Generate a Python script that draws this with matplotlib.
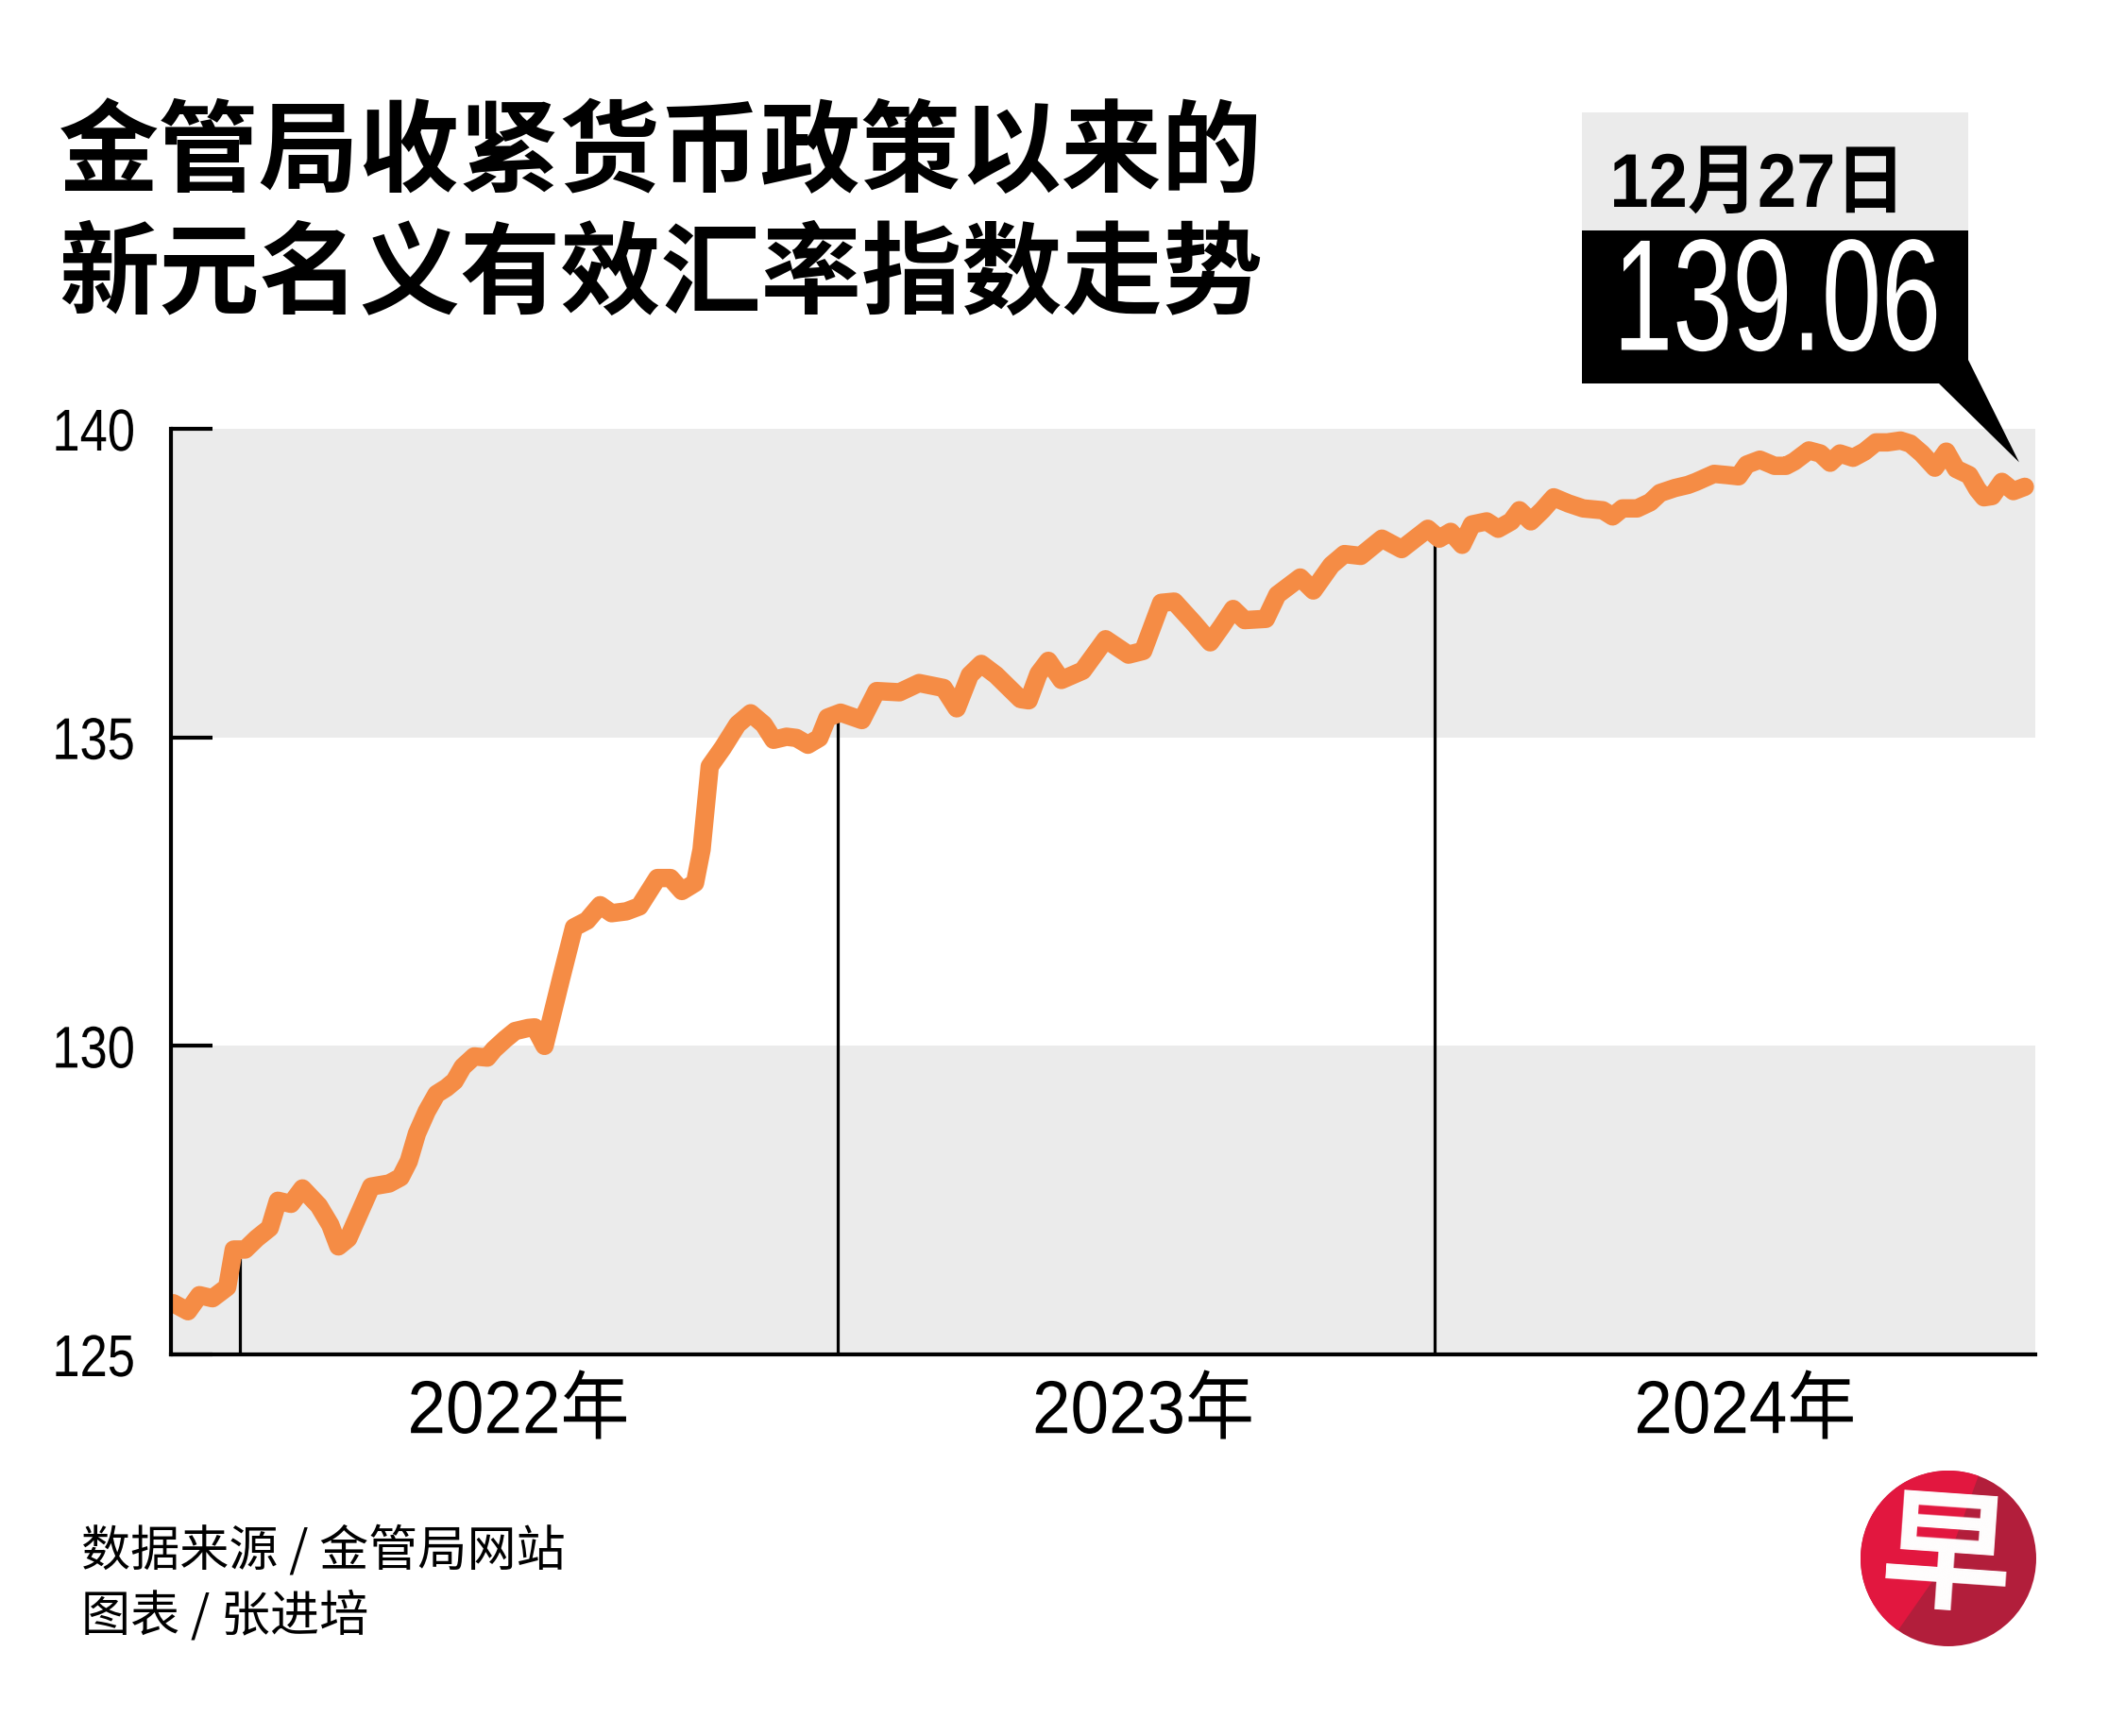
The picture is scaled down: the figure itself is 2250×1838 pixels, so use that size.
import numpy as np
import pandas as pd
import matplotlib
matplotlib.use('Agg')
import matplotlib.pyplot as plt
import matplotlib.dates as mdates
from matplotlib.patches import Polygon, Rectangle, Circle, Wedge
from matplotlib.patheffects import AbstractPathEffect
from matplotlib.transforms import IdentityTransform, Affine2D

# fonts
NUM = 'Liberation Sans'
CJK = 'Noto Sans CJK SC'

# data: days since 2022-01-01 and index value
base_date = '2022-01-01'
day_offsets = [-41, -32, -25, -17, -8, -4, 3, 10, 18, 23,
               31, 38, 48, 55, 60, 66, 74, 80, 91, 98,
               103, 108, 114, 120, 126, 131, 136, 143, 151, 155,
               162, 168, 176, 180, 186, 196, 204, 212, 220, 227,
               236, 244, 255, 263, 270, 278, 282, 287, 295, 304,
               312, 320, 326, 334, 340, 347, 354, 359, 367, 380,
               389, 403, 415, 430, 438, 446, 453, 462, 477, 482,
               488, 494, 502, 515, 529, 543, 552, 563, 571, 583,
               593, 600, 607, 614, 627, 634, 648, 656, 667, 675,
               685, 698, 710, 726, 733, 740, 747, 753, 762, 769,
               777, 782, 789, 796, 803, 812, 821, 833, 839, 845,
               854, 862, 868, 877, 885, 890, 901, 909, 916, 921,
               929, 938, 945, 950, 959, 966, 972, 978, 986, 993,
               1000, 1007, 1015, 1021, 1028, 1036, 1043, 1049, 1057, 1062,
               1066, 1071, 1077, 1084, 1091]
neer_index = [125.83, 125.70, 125.96, 125.91, 126.09, 126.70, 126.70, 126.88, 127.05, 127.49,
              127.44, 127.69, 127.41, 127.10, 126.75, 126.88, 127.36, 127.72, 127.77, 127.87,
              128.13, 128.58, 128.94, 129.22, 129.32, 129.43, 129.66, 129.83, 129.81, 129.94,
              130.11, 130.24, 130.29, 130.30, 130.00, 131.08, 131.92, 132.03, 132.28, 132.15,
              132.18, 132.26, 132.72, 132.72, 132.51, 132.64, 133.18, 134.53, 134.83, 135.21,
              135.39, 135.21, 134.96, 135.01, 134.99, 134.88, 134.99, 135.32, 135.40, 135.28,
              135.75, 135.73, 135.88, 135.80, 135.47, 136.01, 136.19, 136.01, 135.62, 135.60,
              136.03, 136.24, 135.93, 136.08, 136.59, 136.34, 136.40, 137.18, 137.20, 136.85,
              136.54, 136.80, 137.08, 136.90, 136.92, 137.31, 137.59, 137.38, 137.79, 137.97,
              137.94, 138.22, 138.05, 138.38, 138.22, 138.33, 138.12, 138.45, 138.50, 138.38,
              138.50, 138.68, 138.50, 138.68, 138.89, 138.79, 138.71, 138.68, 138.58, 138.71,
              138.71, 138.81, 138.96, 139.04, 139.09, 139.14, 139.27, 139.25, 139.23, 139.42,
              139.50, 139.40, 139.40, 139.47, 139.65, 139.60, 139.45, 139.60, 139.53, 139.63,
              139.78, 139.78, 139.81, 139.76, 139.60, 139.37, 139.63, 139.35, 139.25, 139.02,
              138.89, 138.91, 139.14, 138.99, 139.06]
years = [2022, 2023, 2024]
year_labels = ['2022年', '2023年', '2024年']
year_label_dates = ['2022-06-20', '2023-07-07', '2024-07-09']
y_ticks = [125, 130, 135, 140]
title_lines = ['金管局收紧货币政策以来的', '新元名义有效汇率指数走势']
callout_date = '12月27日'
callout_value = '139.06'
source_lines = ['数据来源 / 金管局网站', '图表 / 张进培']

base = pd.Timestamp(base_date)
dates = base + pd.to_timedelta(day_offsets, unit='D')
xnum = mdates.date2num(dates)

W, H = 2250, 1838
DPI = 100
GRAY = '#EBEBEB'
ORANGE = '#F58C45'


class Narrow(AbstractPathEffect):
    """squeeze text horizontally to mimic a condensed face"""
    def __init__(self, sx, anchor='center'):
        super().__init__()
        self.sx = sx
        self.anchor = anchor

    def draw_path(self, renderer, gc, tpath, affine, rgbFace=None):
        ext = tpath.transformed(affine).get_extents()
        if self.anchor == 'left':
            x0 = ext.x0
        elif self.anchor == 'right':
            x0 = ext.x1
        else:
            x0 = (ext.x0 + ext.x1) / 2
        sq = Affine2D().translate(-x0, 0).scale(self.sx, 1).translate(x0, 0)
        renderer.draw_path(gc, tpath, affine + sq, rgbFace)


def fx(x):
    return x / W

def fy(y):
    return 1 - y / H

def px(x, y):
    return (x, H - y)

fig = plt.figure(figsize=(W / DPI, H / DPI), dpi=DPI)
fig.patch.set_facecolor('white')

ax = fig.add_axes([fx(181), fy(1434), fx(2155) - fx(181), fy(454) - fy(1434)])
ax.set_facecolor('white')
ax.axhspan(135, 140, color=GRAY, lw=0, zorder=0)
ax.axhspan(125, 130, color=GRAY, lw=0, zorder=0)

x_left = mdates.date2num(base + pd.Timedelta(days=-42.4))
x_right = mdates.date2num(base + pd.Timedelta(days=1097.4))
ax.set_xlim(x_left, x_right)
ax.set_ylim(125, 140)

# year dividers up to the line
for yr in years:
    xd = mdates.date2num(pd.Timestamp(f'{yr}-01-01'))
    ax.vlines(xd, 125, np.interp(xd, xnum, neer_index), color='black', lw=2.3, zorder=2)

ax.plot(xnum, neer_index, color=ORANGE, lw=14, solid_joinstyle='round',
        solid_capstyle='round', zorder=3)

for s in ['top', 'right']:
    ax.spines[s].set_visible(False)
for s in ['left', 'bottom']:
    ax.spines[s].set_linewidth(3)
    ax.spines[s].set_color('black')
    ax.spines[s].set_zorder(4)

ax.set_xticks([])
ax.set_yticks(y_ticks)
ax.set_yticklabels([str(v) for v in y_ticks], family=NUM, fontsize=45)
ax.tick_params(axis='y', direction='in', length=32, width=3, pad=27, color='black')
for lbl in ax.get_yticklabels():
    lbl.set_path_effects([Narrow(0.84, 'right')])

for lab, d in zip(year_labels, year_label_dates):
    xm = mdates.date2num(pd.Timestamp(d))
    ax.text(xm, -0.064, lab, transform=ax.get_xaxis_transform(), ha='center', va='center',
            fontsize=57, family=[NUM, CJK], path_effects=[Narrow(0.92)])

# title
fig.text(fx(62), fy(164), title_lines[0], fontsize=76.5, fontweight='black', family=CJK,
         ha='left', va='center')
fig.text(fx(62), fy(292), title_lines[1], fontsize=76.5, fontweight='black', family=CJK,
         ha='left', va='center')

# callout
fig.add_artist(Rectangle(px(1675, 244), 2084 - 1675, 244 - 119, transform=IdentityTransform(),
                         facecolor=GRAY, edgecolor='none'))
fig.canvas.draw()
tip_x, tip_y = ax.transData.transform((xnum[-1], neer_index[-1]))
tip = (tip_x - 6, tip_y + 26)
callout = [px(1675, 244), px(2084, 244), px(2084, 381), tip, px(2053, 406), px(1675, 406)]
fig.add_artist(Polygon(callout, closed=True, transform=IdentityTransform(),
                       facecolor='black', edgecolor='none'))
fig.text(fx(1704), fy(198), callout_date, fontsize=58, fontweight='bold',
         family=[NUM, CJK], ha='left', va='center', path_effects=[Narrow(0.92, 'left')])
fig.text(fx(1704), fy(327), callout_value, fontsize=121, color='white', family=NUM,
         ha='left', va='center', path_effects=[Narrow(0.675, 'left')])

# source
fig.text(fx(86), fy(1643), source_lines[0], fontsize=37.5, family=CJK, ha='left', va='center')
fig.text(fx(86), fy(1712), source_lines[1], fontsize=37.5, family=CJK, ha='left', va='center')

# logo
cx, cy = px(2063, 1650)
fig.add_artist(Circle((cx, cy), 93, transform=IdentityTransform(), facecolor='#B21E3B',
                      edgecolor='none'))
fig.add_artist(Wedge((cx, cy), 93, 70, 235, transform=IdentityTransform(),
                     facecolor='#E2173F', edgecolor='none'))
fig.text(fx(2061), fy(1652), '早', fontsize=100, fontweight='black', family=CJK,
         color='white', ha='center', va='center', rotation=-4)

fig.savefig('out.png', dpi=DPI, facecolor='white')
